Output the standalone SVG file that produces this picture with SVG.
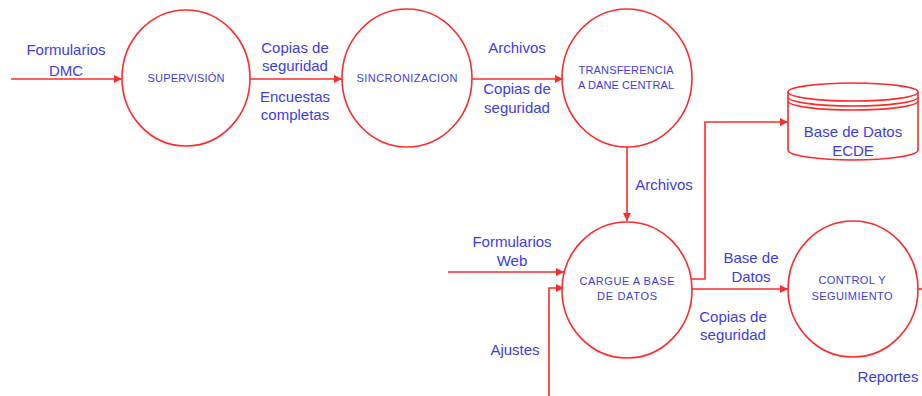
<svg xmlns="http://www.w3.org/2000/svg" width="922" height="396" viewBox="0 0 922 396">
<style>
.n{fill:#fff;stroke:#ff2a2a;stroke-width:1.6}
.c{fill:none;stroke:#ff2a2a;stroke-width:1.6}
.l{font-family:"Liberation Sans",Arial,sans-serif;font-size:15px;fill:#3c3cf0;text-anchor:middle}
.s{font-family:"Liberation Sans",Arial,sans-serif;font-size:11px;fill:#3c3cf0;text-anchor:middle}
</style>
<defs>
<marker id="a" viewBox="0 0 8 8" refX="8" refY="4" markerWidth="8" markerHeight="8" markerUnits="userSpaceOnUse" orient="auto">
<path d="M0,0 L8,4 L0,8 Z" fill="#ff2a2a"/>
</marker>
</defs>
<rect width="922" height="396" fill="#fff"/>
<g id="connectors">
<path class="c" d="M11,79 H122" marker-end="url(#a)"/>
<path class="c" d="M250,79 H342" marker-end="url(#a)"/>
<path class="c" d="M472,79 H563" marker-end="url(#a)"/>
<path class="c" d="M627,147 V221" marker-end="url(#a)"/>
<path class="c" d="M448,272 H564" marker-end="url(#a)"/>
<path class="c" d="M549,396 V288 H564" marker-end="url(#a)"/>
<path class="c" d="M692,279 H705 V122 H788" marker-end="url(#a)"/>
<path class="c" d="M692,289 H788" marker-end="url(#a)"/>
<path class="c" d="M918,289 H922"/>
<text class="l" x="66" y="55">Formularios</text>
<text class="l" x="66" y="76">DMC</text>
<text class="l" x="295" y="53">Copias de</text>
<text class="l" x="295" y="71">seguridad</text>
<text class="l" x="295" y="102">Encuestas</text>
<text class="l" x="295" y="120">completas</text>
<text class="l" x="517" y="53">Archivos</text>
<text class="l" x="517" y="94">Copias de</text>
<text class="l" x="517" y="113">seguridad</text>
<text class="l" x="664" y="190">Archivos</text>
<text class="l" x="512" y="247">Formularios</text>
<text class="l" x="512" y="266">Web</text>
<text class="l" x="515" y="355">Ajustes</text>
<text class="l" x="751" y="263">Base de</text>
<text class="l" x="751" y="282">Datos</text>
<text class="l" x="733" y="322">Copias de</text>
<text class="l" x="733" y="340">seguridad</text>
<text class="l" x="888" y="382">Reportes</text>
</g>
<g id="supervision">
<ellipse class="n" cx="186" cy="78" rx="64" ry="68"/>
<text class="s" x="186" y="82" textLength="77">SUPERVISIÓN</text>
</g>
<g id="sincronizacion">
<ellipse class="n" cx="407" cy="78" rx="65" ry="69"/>
<text class="s" x="407" y="82" textLength="101">SINCRONIZACION</text>
</g>
<g id="transferencia">
<ellipse class="n" cx="627" cy="78" rx="65" ry="69"/>
<text class="s" x="626" y="74" textLength="95">TRANSFERENCIA</text>
<text class="s" x="626" y="89" textLength="96">A DANE CENTRAL</text>
</g>
<g id="cargue">
<ellipse class="n" cx="627" cy="290" rx="65" ry="68"/>
<text class="s" x="627" y="285" textLength="95">CARGUE A BASE</text>
<text class="s" x="627" y="300" textLength="60">DE DATOS</text>
</g>
<g id="control">
<ellipse class="n" cx="853" cy="289" rx="65" ry="68"/>
<text class="s" x="852" y="284" textLength="67">CONTROL Y</text>
<text class="s" x="852" y="300" textLength="81">SEGUIMIENTO</text>
</g>
<g id="basedatos">
<path class="n" d="M788,92 V150 A65,10 0 0 0 918,150 V92"/>
<ellipse class="n" cx="853" cy="92" rx="65" ry="9"/>
<path class="c" d="M788,97 A65,9 0 0 0 918,97"/>
<path class="c" d="M788,101 A65,9 0 0 0 918,101"/>
<text class="l" x="853" y="137">Base de Datos</text>
<text class="l" x="853" y="156">ECDE</text>
</g>
</svg>
